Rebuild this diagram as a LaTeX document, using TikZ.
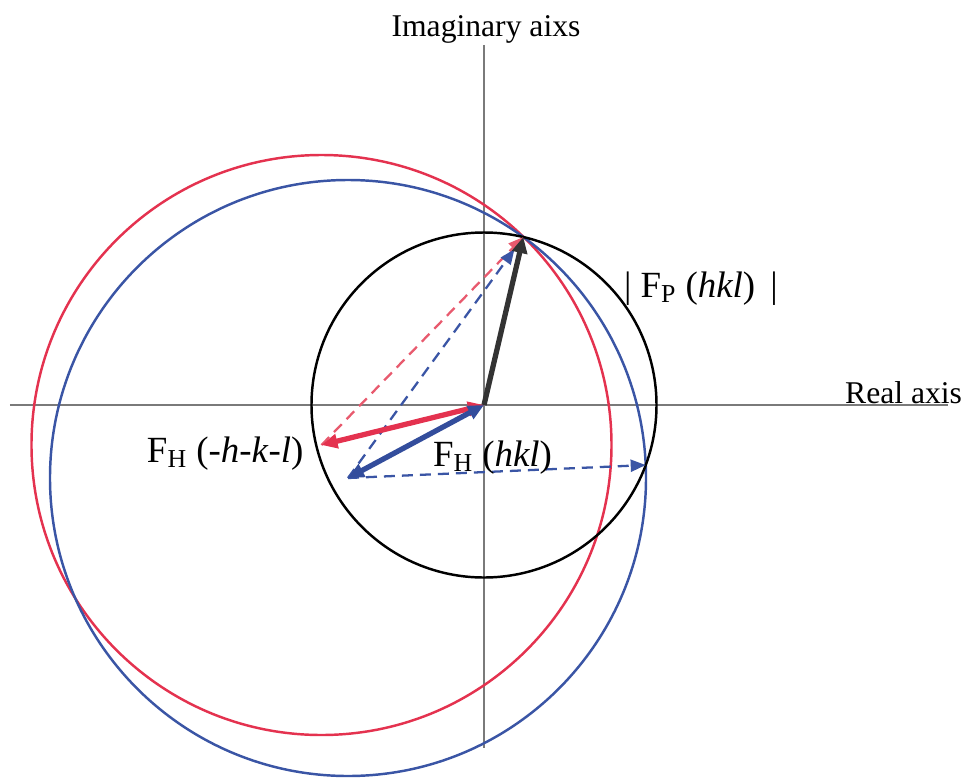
\documentclass[tikz,border=0pt]{standalone}
\usepackage{fontspec}
\setmainfont{Liberation Serif}
\usetikzlibrary{arrows.meta}
\definecolor{ce4324f}{RGB}{228,50,79}
\definecolor{ce85a6e}{RGB}{232,90,110}
\definecolor{c3a55a5}{RGB}{58,85,165}
\definecolor{c334d9c}{RGB}{51,77,156}
\definecolor{c333333}{RGB}{51,51,51}
\definecolor{c7a7a7a}{RGB}{122,122,122}
\def \globalscale {1.000000}

\begin{document}
\begin{tikzpicture}[y=1cm, x=1cm, yscale=\globalscale,xscale=\globalscale, every node/.append style={scale=\globalscale}, inner sep=0pt, outer sep=0pt,
  axisline/.style={draw=c7a7a7a, line width=0.8pt},
  ring/.style={line width=1.4pt},
  vecline/.style={line width=3pt},
  dashline/.style={line width=1.3pt, dash pattern=on 0.22cm off 0.14cm},
  axislabel/.style={font=\fontsize{18}{22}\selectfont},
  veclabel/.style={font=\fontsize{21}{25}\selectfont}]
  \path[use as bounding box] (-9.68, 8.1) rectangle (9.7, -7.54);

  \coordinate (origin) at (0.0, 0.0);
  \coordinate (tipP) at (0.786, 3.359);
  \coordinate (tipHneg) at (-3.25, -0.8);
  \coordinate (tipH) at (-2.72, -1.46);
  \coordinate (crossQ) at (3.234, -1.201);
  \coordinate (axisW) at (-9.48, 0.0);
  \coordinate (axisE) at (9.28, 0.0);
  \coordinate (axisN) at (0.0, 7.2);
  \coordinate (axisS) at (0.0, -6.86);

  \path[axisline] (axisW) -- (axisE);



  \path[axisline] (axisN) -- (axisS);



  \path[draw=ce4324f,ring] (tipHneg) circle (5.8cm);



  \path[draw=c3a55a5,ring] (tipH) circle (5.96cm);



  \path[draw=black,ring] (origin) circle (3.45cm);



  \path[draw=ce85a6e,dashline,-{Triangle[length=0.3cm,width=0.24cm]}] (tipHneg) -- (tipP);



  \path[draw=c3a55a5,dashline,-{Triangle[length=0.3cm,width=0.24cm]},shorten >=0.3cm] (tipH) -- (tipP);



  \path[draw=c3a55a5,dashline,-{Triangle[length=0.3cm,width=0.24cm]}] (tipH) -- (crossQ);



  \path[draw=c333333,vecline,-{Triangle[length=0.32cm,width=0.3cm]}] (origin) -- (tipP);



  \path[draw=ce4324f,vecline,{Triangle[length=0.32cm,width=0.28cm]}-{Triangle[length=0.32cm,width=0.28cm]}] (origin) -- (tipHneg);



  \path[draw=c334d9c,vecline,{Triangle[length=0.32cm,width=0.28cm]}-{Triangle[length=0.32cm,width=0.28cm]}] (origin) -- (tipH);



  \begin{scope}[fill=black,anchor=base]
    \node[text=black,axislabel,anchor=base] (textImag) at (0.04, 7.36){Imaginary aixs};



    \node[text=black,axislabel,anchor=base east] (textReal) at (9.56, 0.04){Real axis};



    \node[text=black,veclabel,anchor=base west] (textFP) at (2.8, 2.16){|~F\textsubscript{P} (\textit{hkl})\hspace{0.3cm}|};



    \node[text=black,veclabel,anchor=base west] (textFHneg) at (-6.74, -1.14){F\textsubscript{H} (-\textit{h}-\textit{k}-\textit{l})};



    \node[text=black,veclabel,anchor=base west] (textFH) at (-1.02, -1.22){F\textsubscript{H} (\textit{hkl})};



  \end{scope}

\end{tikzpicture}
\end{document}
